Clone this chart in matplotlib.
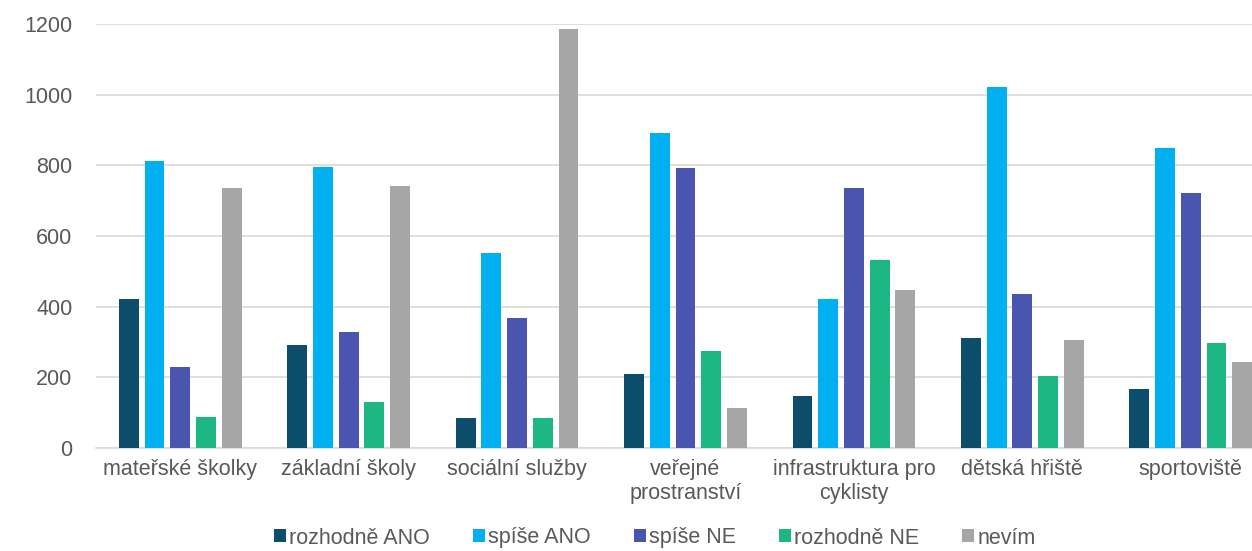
import numpy as np
import matplotlib.pyplot as plt

plt.rcParams['font.family'] = ['Liberation Sans', 'DejaVu Sans']

categories = ['mateřské školky', 'základní školy', 'sociální služby',
              'veřejné\nprostranství', 'infrastruktura pro\ncyklisty',
              'dětská hřiště', 'sportoviště']
series = ['rozhodně ANO', 'spíše ANO', 'spíše NE', 'rozhodně NE', 'nevím']

rozhodne_ano = [421, 291, 86, 209, 147, 312, 168]
spise_ano = [812, 796, 552, 892, 423, 1023, 850]
spise_ne = [228, 327, 369, 793, 735, 437, 722]
rozhodne_ne = [87, 129, 86, 274, 531, 204, 297]
nevim = [737, 741, 1186, 114, 447, 305, 243]

colors = ['#0b4d6b', '#00b0f0', '#4a55b0', '#1db784', '#a6a6a6']


def make_chart():
    fig = plt.figure(figsize=(12.52, 5.51), dpi=100)
    ax = fig.add_axes([96 / 1252, 103 / 551, (1252 - 96) / 1252, 424 / 551])

    data = [rozhodne_ano, spise_ano, spise_ne, rozhodne_ne, nevim]
    x = np.arange(len(categories))
    step = 0.1525
    width = 0.118
    for i, (vals, name, c) in enumerate(zip(data, series, colors)):
        ax.bar(x + (i - 2) * step, vals, width, color=c, label=name, zorder=3)

    ax.set_ylim(0, 1200)
    ax.set_yticks(range(0, 1201, 200))
    group = 1179 / 7
    ax.set_xlim(-0.5, -0.5 + (1252 - 96) / group)
    ax.set_xticks(x)
    ax.set_xticklabels(categories)

    ax.grid(axis='y', color='#d9d9d9', linewidth=1.2, zorder=0)
    for s in ['top', 'right', 'left']:
        ax.spines[s].set_visible(False)
    ax.spines['bottom'].set_color('#d9d9d9')
    ax.spines['bottom'].set_linewidth(1.2)
    ax.tick_params(axis='both', length=0, colors='#595959', labelsize=15.5)
    ax.tick_params(axis='x', pad=8)
    ax.tick_params(axis='y', pad=17)

    fig.legend(loc='center', bbox_to_anchor=(655 / 1252, 1 - 538 / 551),
               ncol=5, frameon=False, fontsize=15.5, labelcolor='#595959',
               handlelength=0.55, handleheight=0.55, handletextpad=0.15,
               columnspacing=2.0)

    fig.savefig('out.png', dpi=100)


if __name__ == '__main__':
    make_chart()
